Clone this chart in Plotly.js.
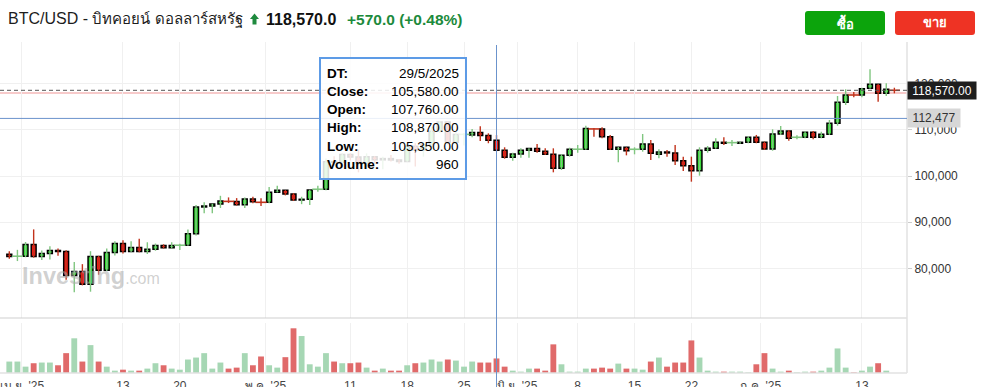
<!DOCTYPE html>
<html><head><meta charset="utf-8">
<script src="https://cdn.plot.ly/plotly-3.0.1.min.js"></script>
<style>html,body{margin:0;padding:0;background:#fff;overflow:hidden}#chart{width:985px;height:387px}</style>
</head><body><div id="chart"></div>
<script>
// ---------------- DATA ----------------
const firstDay = [2025, 2, 30]; // 30 Mar 2025, daily candles
const openP = [
 83070, 82570, 82620, 85140, 82570, 83210, 83860, 83640, 78430, 79290,
 76570, 82570, 79570, 83430, 85360, 83640, 84500, 83640, 84140, 84930,
 84430, 84930, 85000, 87500, 93290, 93500, 93930, 94570, 94500, 93750,
 95000, 94380, 94300, 96470, 96900, 96100, 94800, 94950, 97050, 97130,
 103100, 102970, 104650, 104120, 102790, 104150, 103510, 103770, 103480, 103150,
 106430, 105650, 106800, 109670, 111680, 107290, 108970, 108900, 109450, 108800,
 107760, 105580, 104050, 104770, 105570, 105950, 105350, 104700, 101670, 104480,
 105740, 105800, 110300, 110200, 108520, 105780, 106220, 105720, 105790, 106930,
 104700, 105200, 105000, 103320, 102230, 101150, 105570, 106000, 107300, 107160,
 107100, 107300, 108390, 107300, 105850, 109100, 109750, 108320, 108390, 109470,
 108390, 109030, 111420, 115970, 117620, 117550, 119000, 119870, 117920, 118640];
const highP = [
 83710, 84000, 85700, 88430, 83860, 84790, 84300, 83900, 81360, 80900,
 83710, 82700, 84290, 85850, 86070, 85860, 86430, 85640, 85360, 85200,
 85640, 85300, 88430, 93700, 94300, 94000, 95710, 95360, 95210, 95360,
 95500, 95200, 97600, 97900, 96950, 96300, 95500, 97000, 97900, 103800,
 104300, 104950, 104900, 105750, 104900, 104350, 104150, 104550, 103700, 106700,
 107100, 107300, 110700, 111900, 111800, 109500, 109300, 110200, 110800, 109250,
 108870, 106220, 105050, 106000, 106000, 106930, 106000, 106000, 104770, 106130,
 106700, 110900, 110400, 110560, 108880, 106300, 106300, 106220, 109100, 107800,
 105780, 105630, 106720, 104190, 104190, 106220, 106500, 108170, 108390, 107800,
 107450, 108680, 108900, 107450, 110120, 110840, 109970, 108820, 109750, 109750,
 109610, 112140, 117340, 118790, 118200, 119130, 123120, 119950, 120090, 119130];
const lowP = [
 82070, 81570, 82400, 82300, 81790, 81930, 82700, 77500, 74790, 76300,
 74930, 78600, 79430, 82800, 83210, 83500, 83500, 83100, 83800, 84300,
 84300, 83950, 84900, 87100, 91930, 91930, 93070, 94140, 93600, 93070,
 94100, 93500, 94100, 96400, 95800, 94600, 93900, 93700, 96600, 96900,
 102300, 102800, 103350, 100800, 101500, 102650, 101450, 103150, 102650, 103100,
 102050, 104200, 106200, 109300, 106850, 106900, 106600, 108400, 107600, 107100,
 105350, 103750, 103320, 103970, 103970, 105050, 104550, 100800, 101300, 104190,
 105050, 105700, 108500, 108160, 105640, 102970, 104480, 104700, 105270, 103470,
 103830, 104190, 102380, 101080, 98770, 100070, 105050, 105900, 106720, 106500,
 107000, 107100, 107100, 105630, 105480, 108880, 107650, 107950, 108170, 107950,
 108170, 108900, 110900, 115390, 117050, 117050, 118920, 116100, 117340, 117920];
const closeP = [
 82570, 82620, 85140, 82570, 83210, 83860, 83640, 78430, 79290, 76570,
 82570, 79570, 83430, 85360, 83640, 84500, 83640, 84140, 84930, 84430,
 84930, 85000, 87500, 93290, 93500, 93930, 94570, 94500, 93750, 95000,
 94400, 94300, 96470, 96900, 96100, 94800, 94950, 96970, 97130, 103100,
 102970, 104650, 104120, 102790, 104150, 103510, 103770, 103480, 103150, 106430,
 105650, 106800, 109670, 111680, 107290, 108970, 109020, 109450, 108800, 107760,
 105580, 104050, 104770, 105570, 105950, 105350, 104700, 101670, 104480, 105780,
 105800, 110300, 110200, 108520, 105780, 106220, 105480, 105790, 106930, 104920,
 105200, 105000, 103320, 102230, 101150, 105570, 106000, 107300, 107100, 107230,
 107300, 108390, 107300, 105850, 109100, 109750, 108170, 108390, 109470, 108390,
 109030, 111420, 115970, 117550, 117550, 118920, 119870, 117920, 118790, 118570];
const volume = [
 755, 755, 420, 645, 690, 690, 510, 1310, 2290, 755,
 1840, 755, 420, 155, 220, 155, 155, 290, 645, 510,
 290, 220, 890, 1020, 1310, 290, 690, 290, 355, 1310,
 510, 1090, 510, 355, 1045, 2950, 2440, 575, 420, 1310,
 755, 645, 645, 690, 355, 155, 290, 155, 155, 510,
 645, 690, 890, 755, 890, 820, 420, 755, 690, 690,
 960, 420, 155, 90, 290, 290, 155, 1890, 575, 90,
 90, 290, 290, 355, 290, 620, 290, 290, 220, 755,
 1020, 420, 690, 690, 2150, 1020, 155, 90, 90, 90,
 90, 45, 575, 1310, 290, 90, 155, 45, 90, 90,
 155, 355, 1620, 355, 45, 155, 420, 645, 155, null];
const tickDates = ['2025-03-31 13:00','2025-04-13','2025-04-20','2025-04-30 13:00','2025-05-11','2025-05-18','2025-05-25',
  '2025-05-31 13:00','2025-06-08','2025-06-15','2025-06-22','2025-06-30 13:00','2025-07-13'];
const tickLabels = ["เม.ย. '25",'13','20',"พ.ค. '25",'11','18','25',"มิ.ย. '25",'8','15','22',"ก.ค. '25",'13'];
const priceTicks = [80000, 90000, 100000, 110000, 120000];
const lastPrice = 118570;
const prevClose = 118000;
const crossPrice = 112477;
const crossDate = '2025-05-29';
const headerSymbol = 'BTC/USD - ';
const headerName = 'บิทคอยน์ ดอลลาร์สหรัฐ';
const headerPrice = '118,570.0';
const headerChange = '+570.0 (+0.48%)';
const buyLabel = 'ซื้อ', sellLabel = 'ขาย';

// ---------------- HELPERS ----------------
const N = openP.length;
const dates = openP.map((_, i) => new Date(Date.UTC(firstDay[0], firstDay[1], firstDay[2] + i)).toISOString().slice(0, 10));
const DAY = 86400000;
const FONT = 'Liberation Sans, Arial, Noto Sans, sans-serif';
const UP_FILL = '#2fe02f', DN_FILL = '#f21616', UP_WICK = '#80c680', DN_WICK = '#c2331c';
const UP_VOL = '#a6d7b4', DN_VOL = '#e06a6a';
const CROSS_EPS = 120;

// pixel -> paper (plot area: x 0..907, y 42..373)
const PW = 907, PT = 42, PH = 331;
const px = X => X / PW;
const py = Y => (PT + PH - Y) / PH;

const up = closeP.map((c, i) => c >= openP[i]);
const isCross = closeP.map((c, i) => Math.abs(c - openP[i]) < CROSS_EPS);

function wicks(flag, color) {
  const xs = [], ys = [];
  for (let i = 0; i < N; i++) {
    if (up[i] !== flag) continue;
    xs.push(dates[i], dates[i], null);
    ys.push(lowP[i], highP[i], null);
  }
  return {type: 'scatter', mode: 'lines', x: xs, y: ys, line: {color, width: 1.4}, hoverinfo: 'skip', xaxis: 'x', yaxis: 'y', connectgaps: false};
}

const bodies = {
  type: 'bar', x: dates,
  base: openP.map((o, i) => isCross[i] ? null : Math.min(o, closeP[i])),
  y: openP.map((o, i) => isCross[i] ? null : Math.abs(closeP[i] - o)),
  width: 0.6 * DAY,
  marker: {color: up.map(u => u ? UP_FILL : DN_FILL), line: {color: '#000', width: 1.5}},
  xaxis: 'x', yaxis: 'y', hoverinfo: 'skip'
};
const crossIdx = [];
for (let i = 0; i < N; i++) if (isCross[i]) crossIdx.push(i);
const crosses = {
  type: 'scatter', mode: 'markers',
  x: crossIdx.map(i => dates[i]), y: crossIdx.map(i => closeP[i]),
  marker: {symbol: 'line-ew', size: 8, line: {width: 1.6, color: crossIdx.map(i => up[i] ? UP_WICK : DN_WICK)}},
  xaxis: 'x', yaxis: 'y', hoverinfo: 'skip'
};
const volBars = {
  type: 'bar', x: dates, y: volume, width: 0.72 * DAY,
  marker: {color: closeP.map((c, i) => (i === 0 || c > closeP[i - 1]) ? UP_VOL : DN_VOL)},
  xaxis: 'x', yaxis: 'y2', hoverinfo: 'skip'
};

const fmt2 = v => v.toLocaleString('en-US', {minimumFractionDigits: 2, maximumFractionDigits: 2});
const fmt0 = v => v.toLocaleString('en-US');

const ti = dates.indexOf(crossDate);
const [ty, tm, td] = crossDate.split('-').map(Number);
const tipRows = [
  ['DT:', td + '/' + tm + '/' + ty],
  ['Close:', fmt2(closeP[ti])],
  ['Open:', fmt2(openP[ti])],
  ['High:', fmt2(highP[ti])],
  ['Low:', fmt2(lowP[ti])],
  ['Volume:', fmt0(volume[ti])]
];
const tipY = [73, 91.5, 109.5, 128, 146, 164.5];

function roundRect(x0, y0, x1, y1, r) {
  const P = (X, Y) => px(X).toFixed(5) + ',' + py(Y).toFixed(5);
  return 'M' + P(x0 + r, y0) + ' L' + P(x1 - r, y0) + ' Q' + P(x1, y0) + ' ' + P(x1, y0 + r) +
    ' L' + P(x1, y1 - r) + ' Q' + P(x1, y1) + ' ' + P(x1 - r, y1) +
    ' L' + P(x0 + r, y1) + ' Q' + P(x0, y1) + ' ' + P(x0, y1 - r) +
    ' L' + P(x0, y0 + r) + ' Q' + P(x0, y0) + ' ' + P(x0 + r, y0) + ' Z';
}
function poly(pts) {
  return 'M' + pts.map(p => px(p[0]).toFixed(5) + ',' + py(p[1]).toFixed(5)).join(' L') + ' Z';
}

const shapes = [
  {type: 'line', xref: 'paper', yref: 'paper', x0: 0, x1: 1, y0: py(318), y1: py(318), line: {color: '#cfcfcf', width: 1}},
  {type: 'line', xref: 'paper', yref: 'paper', x0: 0, x1: 1, y0: 0, y1: 0, line: {color: '#e2e2e2', width: 1.5}},
  {type: 'line', xref: 'paper', yref: 'paper', x0: 1, x1: 1, y0: 0, y1: 1, line: {color: '#e2e2e2', width: 1.5}},
  {type: 'line', xref: 'paper', yref: 'y', x0: 0, x1: 1, y0: prevClose, y1: prevClose, line: {color: 'rgba(240,150,150,0.5)', width: 2}, layer: 'below'},
  {type: 'line', xref: 'paper', yref: 'y', x0: 0, x1: 1, y0: lastPrice, y1: lastPrice, line: {color: '#555', width: 1, dash: '4px,3px'}},
  {type: 'line', xref: 'paper', yref: 'y', x0: 0, x1: 1, y0: crossPrice, y1: crossPrice, line: {color: '#6b93cc', width: 1}},
  {type: 'line', xref: 'x', yref: 'paper', x0: crossDate, x1: crossDate, y0: py(390), y1: py(45), line: {color: '#6b93cc', width: 1}},
  {type: 'rect', xref: 'paper', yref: 'paper', x0: px(320), x1: px(466), y0: py(179), y1: py(58),
   fillcolor: 'rgba(255,255,255,0.86)', line: {color: '#5d9be6', width: 2}},
  {type: 'path', xref: 'paper', yref: 'paper', path: poly([[254.5, 13.5], [259, 19], [256.5, 19], [256.5, 24.5], [252.5, 24.5], [252.5, 19], [250, 19]]),
   fillcolor: '#1f8a3e', line: {width: 0}},
  {type: 'path', xref: 'paper', yref: 'paper', path: roundRect(805, 11, 885, 35, 3), fillcolor: '#0ca40c', line: {width: 0}},
  {type: 'path', xref: 'paper', yref: 'paper', path: roundRect(895, 11, 975, 35, 3), fillcolor: '#ee3324', line: {width: 0}}
];

const annotations = [
  {xref: 'paper', yref: 'paper', x: px(6), y: py(19), xanchor: 'left', yanchor: 'middle', showarrow: false,
   text: headerSymbol + '<span style="font-size:15px">' + headerName + '</span>', font: {family: FONT, size: 16, color: '#1d1d1d'}},
  {xref: 'paper', yref: 'paper', x: px(264), y: py(19), xanchor: 'left', yanchor: 'middle', showarrow: false,
   text: '<b>' + headerPrice + '</b>', font: {family: FONT, size: 16, color: '#111'}},
  {xref: 'paper', yref: 'paper', x: px(345), y: py(19), xanchor: 'left', yanchor: 'middle', showarrow: false,
   text: '<b>' + headerChange + '</b>', font: {family: FONT, size: 15.5, color: '#1c8a3c'}},
  {xref: 'paper', yref: 'paper', x: px(845), y: py(23), xanchor: 'center', yanchor: 'middle', showarrow: false,
   text: '<b>' + buyLabel + '</b>', font: {family: FONT, size: 13, color: '#fff'}},
  {xref: 'paper', yref: 'paper', x: px(935), y: py(23), xanchor: 'center', yanchor: 'middle', showarrow: false,
   text: '<b>' + sellLabel + '</b>', font: {family: FONT, size: 13, color: '#fff'}},
  {xref: 'paper', yref: 'paper', x: px(20), y: py(276), xanchor: 'left', yanchor: 'middle', showarrow: false,
   text: '<b>Investing</b><span style="font-size:16px">.com</span>', font: {family: FONT, size: 23.5, color: 'rgba(170,170,170,0.55)'}},
  {xref: 'paper', yref: 'y', x: 1, y: lastPrice, xanchor: 'left', yanchor: 'middle', showarrow: false,
   text: fmt2(lastPrice), width: 68, height: 17, borderpad: 0, bgcolor: '#1e1e1e', font: {family: FONT, size: 12, color: '#fff'}},
  {xref: 'paper', yref: 'y', x: 1, y: crossPrice, xanchor: 'left', yanchor: 'middle', showarrow: false,
   text: fmt0(crossPrice), width: 52, height: 18, borderpad: 0, bgcolor: '#d7d7d7', font: {family: FONT, size: 12, color: '#333'}}
];
tipRows.forEach((r, k) => {
  annotations.push({xref: 'paper', yref: 'paper', x: px(325), y: py(tipY[k]), xanchor: 'left', yanchor: 'middle', showarrow: false,
    text: '<b>' + r[0] + '</b>', font: {family: FONT, size: 13.5, color: '#000'}});
  annotations.push({xref: 'paper', yref: 'paper', x: px(461), y: py(tipY[k]), xanchor: 'right', yanchor: 'middle', showarrow: false,
    text: r[1], font: {family: FONT, size: 13.5, color: '#000'}});
});

const layout = {
  width: 985, height: 387,
  margin: {l: 0, r: 78, t: 42, b: 14, pad: 0},
  paper_bgcolor: '#fff', plot_bgcolor: '#fff',
  showlegend: false, barmode: 'overlay',
  font: {family: FONT, color: '#333'},
  xaxis: {type: 'date', anchor: 'y2', range: ['2025-03-28 20:31', '2025-07-18 13:18'],
    tickvals: tickDates, ticktext: tickLabels, tickangle: 0, ticks: '', ticklabelstandoff: 4, ticklabeloverflow: 'allow',
    showgrid: true, gridcolor: '#f0f0f0', gridwidth: 1,
    zeroline: false, showline: false, tickfont: {size: 12, color: '#444'}, fixedrange: true},
  yaxis: {domain: [py(318), 1], range: [69231, 129036], side: 'right', tickvals: priceTicks, tickformat: ',d',
    ticks: 'outside', ticklen: 4, tickcolor: '#cccccc', showgrid: true, gridcolor: '#f0f0f0', zeroline: false, showline: false,
    tickfont: {size: 12, color: '#333'}, fixedrange: true},
  yaxis2: {domain: [0, py(323)], range: [0, 3300], showticklabels: false, showgrid: false, zeroline: false, showline: false, fixedrange: true},
  shapes, annotations
};

Plotly.newPlot('chart', [wicks(true, UP_WICK), wicks(false, DN_WICK), bodies, crosses, volBars], layout, {displayModeBar: false, staticPlot: true});
</script>
</body></html>
